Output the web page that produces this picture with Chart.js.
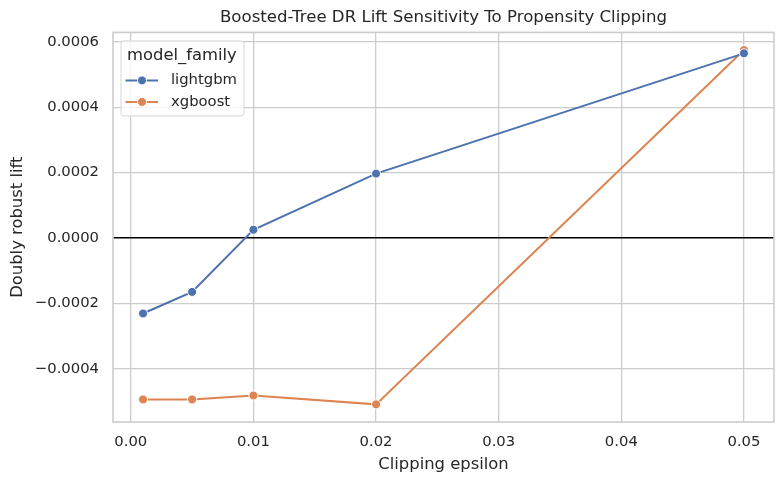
<!DOCTYPE html>
<html>
<head>
<meta charset="utf-8">
<script src="https://cdn.jsdelivr.net/npm/chart.js@4/dist/chart.umd.min.js"></script>
<style>
  html, body { margin: 0; padding: 0; background: #fff; }
  #wrap { width: 784px; height: 484px; }
</style>
</head>
<body>
<div id="wrap"><canvas id="liftChart"></canvas></div>
<script>
// data
const epsilons = [0.001, 0.005, 0.01, 0.02, 0.05];
const families = ['lightgbm', 'xgboost'];
const lightgbmLift = [-0.000231, -0.000165, 0.0000253, 0.000197, 0.000565];
const xgboostLift = [-0.000494, -0.000494, -0.000482, -0.000509, 0.000575];
const xTicks = [0, 0.01, 0.02, 0.03, 0.04, 0.05];
const yTicks = [-0.0004, -0.0002, 0, 0.0002, 0.0004, 0.0006];

const palette = ['#4c72b0', '#dd8452'];
const textColor = '#262626';
const gridColor = '#cccccc';
const fontFamily = '"DejaVu Sans", sans-serif';

Chart.defaults.font.family = fontFamily;
Chart.defaults.color = textColor;

function toPoints(ys) {
    return epsilons.map((x, i) => ({ x: x, y: ys[i] }));
}

function minusSign(s) {
    return s.replace('-', '\u2212');
}

// frame on all four sides, like matplotlib spines
const framePlugin = {
    id: 'frame',
    afterDatasetsDraw(chart) {
        const { ctx, chartArea: a } = chart;
        ctx.save();
        ctx.strokeStyle = gridColor;
        ctx.lineWidth = 1.6;
        ctx.strokeRect(a.left, a.top, a.right - a.left, a.bottom - a.top);
        ctx.restore();
    }
};

// legend box inside the axes, top left
const insideLegend = {
    id: 'insideLegend',
    afterDraw(chart) {
        const { ctx, chartArea: a } = chart;
        const x0 = a.left + 8, y0 = a.top + 8.5;
        const w = 123, h = 75;
        ctx.save();
        ctx.beginPath();
        ctx.roundRect(x0, y0, w, h, 3);
        ctx.fillStyle = 'rgba(255,255,255,0.8)';
        ctx.fill();
        ctx.strokeStyle = '#d6d6d6';
        ctx.lineWidth = 1;
        ctx.stroke();

        ctx.fillStyle = textColor;
        ctx.textBaseline = 'middle';
        ctx.textAlign = 'left';
        ctx.font = '16.4px ' + fontFamily;
        ctx.fillText('model_family', x0 + 6, y0 + 14.5);

        ctx.font = '14.8px ' + fontFamily;
        chart.data.datasets.forEach((ds, i) => {
            const cy = y0 + 39.5 + i * 21.5;
            ctx.strokeStyle = ds.borderColor;
            ctx.lineWidth = 2;
            ctx.beginPath();
            ctx.moveTo(x0 + 4.5, cy);
            ctx.lineTo(x0 + 37, cy);
            ctx.stroke();
            ctx.beginPath();
            ctx.arc(x0 + 21, cy, 4.5, 0, Math.PI * 2);
            ctx.fillStyle = ds.borderColor;
            ctx.fill();
            ctx.strokeStyle = '#ffffff';
            ctx.lineWidth = 1;
            ctx.stroke();
            ctx.fillStyle = textColor;
            ctx.fillText(ds.label, x0 + 50, cy);
        });
        ctx.restore();
    }
};

const ctx = document.getElementById('liftChart').getContext('2d');
const liftChart = new Chart(ctx, {
    type: 'line',
    data: {
        datasets: [lightgbmLift, xgboostLift].map((ys, i) => ({
            label: families[i],
            data: toPoints(ys),
            borderColor: palette[i],
            backgroundColor: palette[i],
            borderWidth: 2,
            pointRadius: 4.5,
            pointHoverRadius: 4.5,
            pointBackgroundColor: palette[i],
            pointBorderColor: '#ffffff',
            pointBorderWidth: 1,
            tension: 0
        }))
    },
    options: {
        responsive: true,
        maintainAspectRatio: false,
        devicePixelRatio: 1,
        animation: false,
        layout: { padding: { left: 0, right: 10, top: 0, bottom: 0 } },
        plugins: {
            legend: { display: false },
            tooltip: { enabled: false },
            title: {
                display: true,
                fullSize: false,
                text: 'Boosted-Tree DR Lift Sensitivity To Propensity Clipping',
                color: textColor,
                font: { size: 16.6, weight: 'normal' },
                padding: { top: 8, bottom: 4.5 }
            }
        },
        scales: {
            x: {
                type: 'linear',
                min: -0.00145,
                max: 0.05245,
                afterBuildTicks(scale) {
                    scale.ticks = xTicks.map(v => ({ value: v }));
                },
                afterFit(scale) {
                    scale.height = 62;
                },
                ticks: {
                    font: { size: 14.8 },
                    color: textColor,
                    padding: 11,
                    maxRotation: 0,
                    callback: v => v.toFixed(2)
                },
                grid: { color: gridColor, lineWidth: 1.3, drawTicks: false },
                border: { display: false },
                title: {
                    display: true,
                    text: 'Clipping epsilon',
                    color: textColor,
                    font: { size: 16.4 },
                    padding: { top: 0, bottom: 9 }
                }
            },
            y: {
                type: 'linear',
                min: -0.000563,
                max: 0.000629,
                afterBuildTicks(scale) {
                    scale.ticks = yTicks.map(v => ({ value: v }));
                },
                afterFit(scale) {
                    scale.width = 113;
                },
                ticks: {
                    font: { size: 14.8 },
                    color: textColor,
                    padding: 14,
                    callback: v => minusSign(v.toFixed(4))
                },
                grid: {
                    color: c => (c.tick && c.tick.value === 0 ? '#000000' : gridColor),
                    lineWidth: c => (c.tick && c.tick.value === 0 ? 1.4 : 1.3),
                    drawTicks: false
                },
                border: { display: false },
                title: {
                    display: true,
                    text: 'Doubly robust lift',
                    color: textColor,
                    font: { size: 16.4 },
                    padding: { top: 8, bottom: 0 }
                }
            }
        }
    },
    plugins: [framePlugin, insideLegend]
});
</script>
</body>
</html>
